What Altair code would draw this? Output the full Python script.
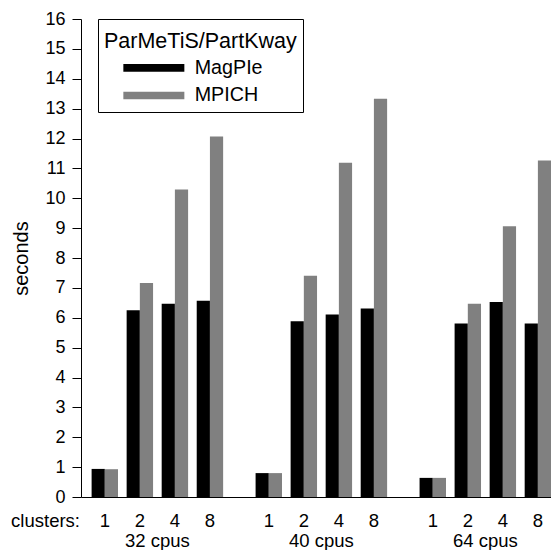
import altair as alt
import pandas as pd

cpus = ["32 cpus", "40 cpus", "64 cpus"]
clusters = ["1", "2", "4", "8"]
series = ["MagPIe", "MPICH"]
magpie = [0.94, 6.25, 6.47, 6.57, 0.80, 5.88, 6.11, 6.31, 0.64, 5.81, 6.53, 5.81]
mpich = [0.93, 7.16, 10.29, 12.07, 0.80, 7.41, 11.19, 13.33, 0.64, 6.47, 9.06, 11.26]
y_ticks = list(range(0, 17))

rows = []
for bi, c in enumerate(cpus):
    for gi, cl in enumerate(clusters):
        k = bi * len(clusters) + gi
        rows.append(dict(cpus=c, clusters=cl, b=bi, g=gi, s=0, series=series[0], seconds=magpie[k]))
        rows.append(dict(cpus=c, clusters=cl, b=bi, g=gi, s=1, series=series[1], seconds=mpich[k]))
df = pd.DataFrame(rows)
blocks = pd.DataFrame({"cpus": cpus, "b": list(range(len(cpus)))})

# layout of the grouped axis (in units of one cluster-group step)
BLOCK = 4.68
OFF = 0.16
BW = 0.377
STEP = 35.8
W, H = 470, 478
FONT = "Liberation Sans"

xscale = alt.Scale(domain=[0, W / STEP], nice=False, zero=False)

base = alt.Chart(df).transform_calculate(
    x0=f"datum.b * {BLOCK} + datum.g + {OFF} + datum.s * {BW}"
).transform_calculate(
    x1=f"datum.x0 + {BW}"
)

bars = base.mark_bar(orient="vertical").encode(
    x=alt.X("x0:Q", scale=xscale,
            axis=alt.Axis(title=None, labels=False, ticks=False, grid=False,
                          domain=True, domainColor="black", domainWidth=1)),
    x2="x1:Q",
    y=alt.Y("seconds:Q", scale=alt.Scale(domain=[0, 16], nice=False),
            axis=alt.Axis(title="seconds", values=y_ticks, grid=False,
                          tickSize=9, tickColor="black", domainColor="black",
                          labelColor="black", labelFontSize=18, labelFont=FONT,
                          labelPadding=7, titleFontSize=20, titleFont=FONT,
                          titleFontWeight="normal", titleColor="black",
                          titleX=-60, titleBaseline="middle")),
    y2=alt.datum(0),
    color=alt.Color("series:N", scale=alt.Scale(domain=series, range=["#000000", "#808080"]),
                    legend=alt.Legend(title="ParMeTiS/PartKway", orient="none",
                                      legendX=17, legendY=0,
                                      strokeColor="black", fillColor="white",
                                      padding=6,
                                      titleFontSize=21.5, titleFont=FONT,
                                      titleFontWeight="normal", titleColor="black",
                                      titleBaseline="line-top", titleLineHeight=34,
                                      titlePadding=11.5, titleLimit=500,
                                      labelFontSize=19.7, labelFont=FONT, labelColor="black",
                                      symbolType="M-4,-0.5H4V0.5H-4Z",
                                      symbolSize=232.6, symbolStrokeWidth=0,
                                      symbolOffset=40, labelOffset=31,
                                      rowPadding=6.6)),
)

cluster_labels = base.transform_filter("datum.s == 0").transform_calculate(
    xc=f"datum.x0 + {BW}"
).mark_text(baseline="alphabetic", fontSize=18.5, font=FONT, color="black").encode(
    x=alt.X("xc:Q", scale=xscale),
    y=alt.value(H + 30),
    text="clusters:N",
)

cpu_labels = alt.Chart(blocks).transform_calculate(
    xc=f"datum.b * {BLOCK} + {OFF} + {(3 + 2 * BW) / 2}"
).mark_text(baseline="alphabetic", fontSize=18.5, font=FONT, color="black").encode(
    x=alt.X("xc:Q", scale=xscale),
    y=alt.value(H + 50),
    text="cpus:N",
)

clusters_word = alt.Chart(pd.DataFrame({"t": ["clusters:"]})).mark_text(
    align="right", baseline="alphabetic", fontSize=18.5, font=FONT, color="black"
).encode(
    x=alt.value(-1),
    y=alt.value(H + 30),
    text="t:N",
)

chart = alt.layer(bars, cluster_labels, cpu_labels, clusters_word).properties(
    width=W, height=H,
    autosize=alt.AutoSizeParams(type="none"),
    padding={"left": 73, "top": 11, "right": 0, "bottom": 53},
).configure_view(stroke=None)

chart.save("out.html", embed_options={"renderer": "svg", "actions": False})
